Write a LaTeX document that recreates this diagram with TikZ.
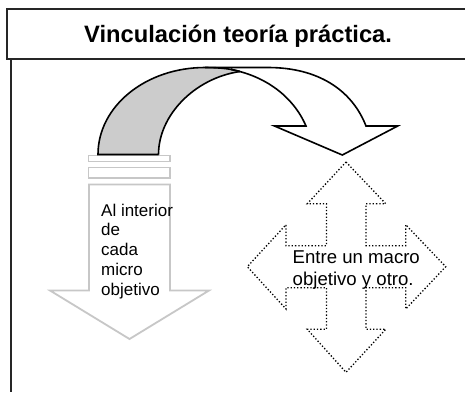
\documentclass[tikz,border=0pt]{standalone}
\usepackage{fontspec}
\setmainfont{Liberation Sans}
\tikzset{
  frameline/.style={draw=black!85,line width=2pt},
  inkline/.style={draw=black,line width=1.6pt,line join=miter},
  grayline/.style={draw=black!22,line width=1.8pt,line join=miter},
  dotline/.style={draw=black,line width=1.3pt,dash pattern=on 1.3pt off 2pt},
  txt/.style={inner sep=0pt,anchor=base west,align=left},
}
\begin{document}
\begin{tikzpicture}[x=1pt,y=-1pt]
\useasboundingbox (0,0) rectangle (465,392);
\fill[white] (0,0) rectangle (465,392);
% frame
\coordinate (fa) at (10.5,58.5);
\coordinate (fb) at (10.5,392);
\draw[frameline] (fa) -- (fb);
\draw[frameline] (465,8.5) -- (6.5,8.5) -- (6.5,58.5) -- (465,58.5);
\node[txt,font=\bfseries\fontsize{23.7}{26}\selectfont] (title) at (84,42.5) {Vinculación teoría práctica.};
% gray arrow
\draw[grayline] (88.5,155.5) rectangle (170,161.5);
\draw[grayline] (88.5,167.5) rectangle (170,178);
\draw[grayline] (89,290.5) -- (89,184.5) -- (170,184.5) -- (170,290.5) -- (209,290.5) -- (129.5,339) -- (50,290.5) -- cycle;
% curved arrow
\path[fill=black!20] (98,154.5) .. controls (98,106) and (146,67.5) .. (205,67.5)
   .. controls (220,67.5) and (232,69) .. (240,71.5)
   .. controls (195,78) and (158.5,115) .. (158.5,154.5) -- cycle;
\draw[inkline] (158.5,154.5) -- (98,154.5) .. controls (98,106) and (146,67.5) .. (205,67.5)
   .. controls (220,67.5) and (232,69) .. (240,71.5);
\draw[inkline] (158.5,154.5) .. controls (158.5,115) and (195,78) .. (240,71.5);
\draw[inkline] (205,67.5) -- (268,67.5) .. controls (318,67.5) and (352,90) .. (366,126)
   -- (397.7,126) -- (342.3,155) -- (274.5,126) -- (306,126)
   .. controls (293,96) and (265,76) .. (231,69.5);
% dotted cross
\draw[dotline] (346,162) -- (385.7,203.7) -- (366,203.7) -- (366,245.7) -- (405.7,245.7) -- (405.7,224.7)
  -- (445.7,266.7) -- (405.7,309) -- (405.7,287.7) -- (366,287.7) -- (366,329.3) -- (385.7,329.3)
  -- (346,372.3) -- (307.3,329.3) -- (326.5,329.3) -- (326.5,287.7) -- (286,287.7) -- (286,309)
  -- (247.3,266.7) -- (286,224.7) -- (286,245.7) -- (326.5,245.7) -- (326.5,203.7) -- (307.3,203.7) -- cycle;
% texts
\node[txt,font=\fontsize{17}{19.75}\selectfont] (inner) at (101,295) {Al interior\\de\\cada\\micro\\objetivo};
\node[txt,font=\fontsize{18.6}{22.7}\selectfont] (outer) at (292.5,285.7) {Entre un macro\\objetivo y otro.};
\end{tikzpicture}
\end{document}
